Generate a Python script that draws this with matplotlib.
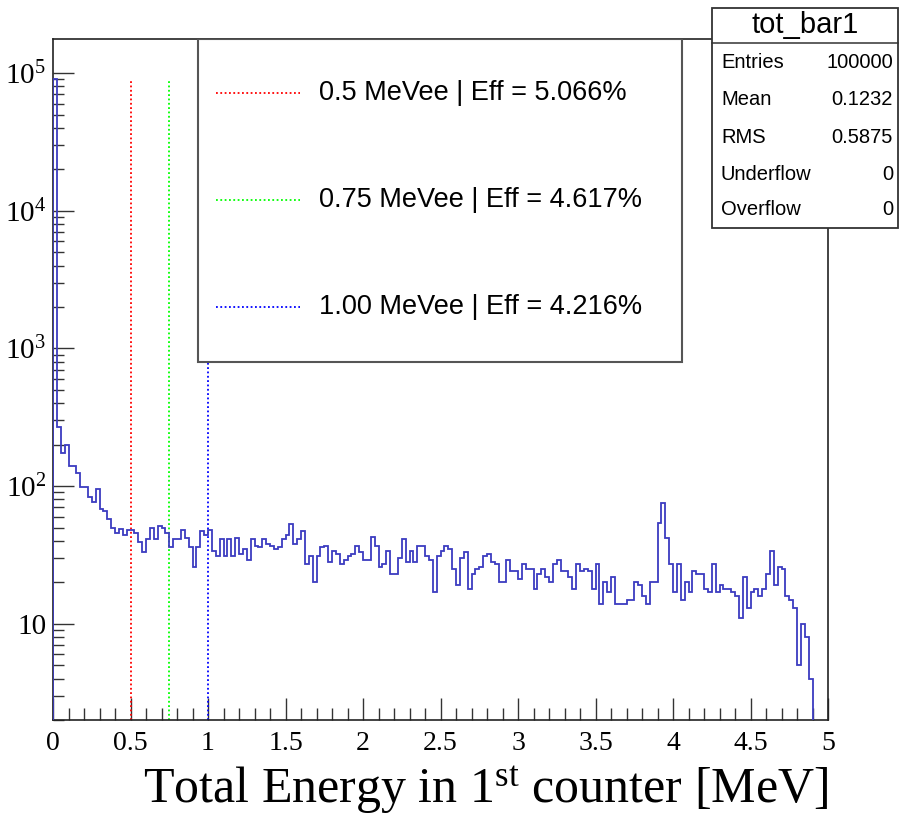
import numpy as np
import matplotlib
matplotlib.use("Agg")
import matplotlib.pyplot as plt
from matplotlib.patches import Rectangle
from matplotlib.lines import Line2D
from matplotlib.ticker import FixedLocator, LogLocator, NullFormatter, MultipleLocator

# histogram tot_bar1: 200 bins from 0 to 5 MeV
counts = [90000, 270, 173, 200, 139, 139, 125, 99, 99, 84,
          77, 95, 68, 66, 58, 50, 46, 49, 44, 48,
          48, 46, 39, 33, 41, 50, 41, 51, 50, 46,
          36, 41, 41, 48, 42, 36, 26, 36, 47, 44,
          48, 34, 31, 41, 31, 41, 31, 42, 32, 35,
          29, 41, 37, 36, 41, 38, 37, 35, 36, 41,
          44, 53, 38, 41, 47, 27, 31, 20, 31, 36,
          37, 28, 34, 32, 27, 29, 31, 32, 37, 33,
          29, 29, 43, 37, 26, 27, 34, 23, 23, 30,
          41, 28, 34, 28, 37, 37, 31, 29, 17, 31,
          34, 37, 35, 25, 19, 30, 33, 18, 23, 25,
          26, 31, 32, 28, 27, 20, 20, 29, 24, 24,
          21, 27, 25, 25, 18, 23, 25, 22, 20, 27,
          29, 24, 24, 22, 18, 27, 24, 25, 24, 18,
          27, 14, 20, 17, 22, 14, 14, 14, 15, 15,
          20, 19, 16, 14, 20, 20, 54, 75, 42, 27,
          17, 27, 15, 20, 17, 24, 23, 23, 18, 17,
          27, 17, 19, 18, 18, 17, 16, 11, 22, 13,
          17, 18, 16, 18, 23, 34, 19, 26, 25, 16,
          15, 13, 5, 10, 8, 4, 0, 0, 0, 0]
x_min, x_max = 0.0, 5.0

thresholds = [0.5, 0.75, 1.0]
thr_colors = ["#ff0000", "#00ff00", "#0000ff"]
thr_labels = ["0.5 MeVee | Eff = 5.066%",
              "0.75 MeVee | Eff = 4.617%",
              "1.00 MeVee | Eff = 4.216%"]

stat_names = ["Entries", "Mean", "RMS", "Underflow", "Overflow"]
stat_values = ["100000", "0.1232", "0.5875", "0", "0"]

ytick_vals = [10, 100, 1000, 10000, 100000]
ytick_labels = ["10", "$10^{2}$", "$10^{3}$", "$10^{4}$", "$10^{5}$"]
xtick_labels = ["0", "0.5", "1", "1.5", "2", "2.5", "3", "3.5", "4", "4.5", "5"]

plt.rcParams["mathtext.fontset"] = "custom"
plt.rcParams["mathtext.rm"] = "Liberation Serif"
plt.rcParams["mathtext.it"] = "Liberation Serif:italic"

fig = plt.figure(figsize=(8.99, 8.19), dpi=100)
ax = fig.add_axes([0.0590, 0.1209, 0.8621, 0.8315])

counts = np.array(counts, dtype=float)
edges = np.linspace(x_min, x_max, len(counts) + 1)
ax.stairs(counts, edges, color="#3c3cc0", lw=1.3, zorder=3)

ax.set_yscale("log")
ax.set_xlim(x_min, x_max)
ax.set_ylim(2.0, 1.77e5)

for x, c in zip(thresholds, thr_colors):
    ax.vlines(x, 2.0, counts.max(), colors=c, linestyles=(0, (1, 1.4)), lw=1.3, zorder=2)

# ticks, ROOT style (inside, bottom/left only)
ax.yaxis.set_major_locator(FixedLocator(ytick_vals))
ax.set_yticklabels(ytick_labels, family="Liberation Serif", fontsize=21)
ax.yaxis.set_minor_locator(LogLocator(base=10, subs=np.arange(2, 10)))
ax.yaxis.set_minor_formatter(NullFormatter())
ax.set_xticks(np.arange(0, 5.01, 0.5))
ax.xaxis.set_minor_locator(MultipleLocator(0.1))
ax.set_xticklabels(xtick_labels, family="Liberation Serif", fontsize=20)
ax.tick_params(axis="both", which="both", direction="in", color="#333333", width=1.0)
ax.tick_params(axis="y", which="major", length=15, pad=5)
ax.tick_params(axis="y", which="minor", length=8)
ax.tick_params(axis="x", which="major", length=16, pad=8)
ax.tick_params(axis="x", which="minor", length=8.5)
for s in ax.spines.values():
    s.set_linewidth(1.2)
    s.set_color("#222222")

ax.set_xlabel("Total Energy in 1$^{\\mathrm{st}}$ counter [MeV]", family="Liberation Serif",
              fontsize=36, loc="right", labelpad=6)

# legend box
ax.add_patch(Rectangle((0.187, 0.5257), 0.6245, 0.4743, transform=ax.transAxes,
                       facecolor="white", edgecolor="#555555", lw=1.5, zorder=5))
leg_y = [0.9207, 0.7636, 0.6065]
for y, c, lab in zip(leg_y, thr_colors, thr_labels):
    ax.add_line(Line2D([0.2103, 0.3187], [y, y], transform=ax.transAxes, color=c,
                       linestyle=(0, (1, 1.4)), lw=1.3, zorder=6))
    ax.text(0.3432, y, lab, transform=ax.transAxes, family="Liberation Sans",
            fontsize=19.5, va="center", ha="left", zorder=6)

# stats box
fig.add_artist(Rectangle((0.792, 0.7216), 0.2069, 0.2686, transform=fig.transFigure,
                         facecolor="white", edgecolor="#333333", lw=1.3, zorder=10))
fig.add_artist(Line2D([0.792, 0.9989], [0.9475, 0.9475], transform=fig.transFigure,
                      color="#333333", lw=1.1, zorder=11))
fig.text(0.8954, 0.9695, "tot_bar1", family="Liberation Sans", fontsize=21,
         ha="center", va="center", zorder=11)
stat_y = [0.9231, 0.8779, 0.8327, 0.7875, 0.7436]
for y, n, v in zip(stat_y, stat_names, stat_values):
    fig.text(0.802, y, n, family="Liberation Sans", fontsize=14.5, ha="left", va="center", zorder=11)
    fig.text(0.9933, y, v, family="Liberation Sans", fontsize=14.5, ha="right", va="center", zorder=11)

fig.savefig("out.png", dpi=100)
